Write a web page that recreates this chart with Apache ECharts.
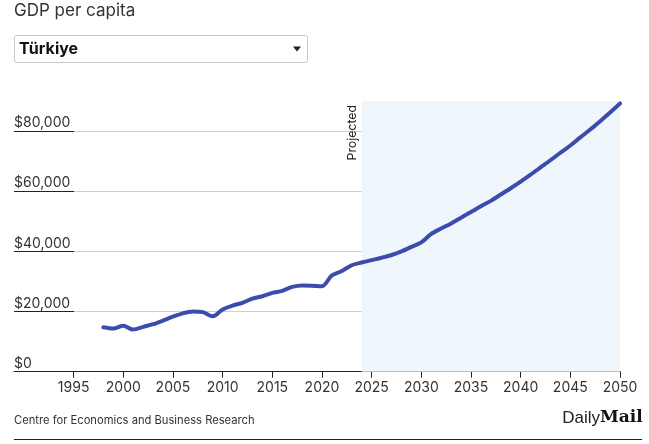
<!DOCTYPE html>
<html>
<head>
<meta charset="utf-8">
<script src="https://cdn.jsdelivr.net/npm/echarts@6/dist/echarts.min.js"></script>
<style>
html,body{margin:0;padding:0;background:#fff;}
#c{width:649px;height:444px;}
</style>
</head>
<body>
<div id="c"></div>
<script>
var years = [];
for (var y = 1989; y <= 2050; y++) years.push(String(y));

var gdpYears = [1998,1999,2000,2001,2002,2003,2004,2005,2006,2007,2008,2009,2010,2011,2012,2013,2014,2015,2016,2017,2018,2019,2020,2021,2022,2023,2024,2025,2026,2027,2028,2029,2030,2031,2032,2033,2034,2035,2036,2037,2038,2039,2040,2041,2042,2043,2044,2045,2046,2047,2048,2049,2050];
var gdpValues = [14800,14400,15300,14000,14900,15800,17000,18300,19400,20000,19800,18400,20700,22000,22900,24300,25100,26200,26900,28200,28700,28600,28400,32000,33500,35400,36300,37100,37900,38800,40000,41500,43000,45800,47600,49300,51200,53100,55000,56800,58900,61000,63200,65500,67900,70300,72800,75200,77900,80500,83300,86200,89200];
var projectionStart = '2024';
var projectionEnd = '2050';
var yTicks = [0, 20000, 40000, 60000, 80000];
var xTickYears = [1995, 2000, 2005, 2010, 2015, 2020, 2025, 2030, 2035, 2040, 2045, 2050];

var seriesData = years.map(function (yr) {
  var i = gdpYears.indexOf(Number(yr));
  return i >= 0 ? gdpValues[i] : null;
});

var FONT = 'Inter, "Noto Sans", sans-serif';
function isTick(i, v) { return xTickYears.indexOf(Number(v)) >= 0; }

var chart = echarts.init(document.getElementById('c'), null, {renderer: 'canvas'});
chart.setOption({
  animation: false,
  textStyle: {fontFamily: FONT},
  title: {
    text: 'GDP per capita',
    left: 14, top: 2, padding: 0,
    textStyle: {fontSize: 17, fontWeight: 'normal', color: '#333', fontFamily: FONT}
  },
  graphic: [
    {type: 'rect', shape: {x: 14.5, y: 35.5, width: 293, height: 27, r: 2},
     style: {fill: '#fff', stroke: '#c8c8c8', lineWidth: 1}},
    {type: 'text', style: {x: 19, y: 49, text: 'Türkiye', fill: '#111', font: 'bold 16px ' + FONT, verticalAlign: 'middle'}},
    {type: 'polygon', shape: {points: [[293, 46.5], [301, 46.5], [297, 51.5]]}, style: {fill: '#222'}},
    {type: 'text', style: {x: 14, y: 421, text: 'Centre for Economics and Business Research', fill: '#333', font: '11.2px ' + FONT, verticalAlign: 'middle'}},
    {type: 'text', style: {x: 600, y: 418.5, text: 'Daily', fill: '#222', font: '300 17px "Liberation Sans", sans-serif', verticalAlign: 'middle', align: 'right'}},
    {type: 'text', style: {x: 600, y: 418, text: 'Mail', fill: '#111', font: 'bold 17px "DejaVu Serif", serif', verticalAlign: 'middle', align: 'left'}},
    {type: 'line', shape: {x1: 14, y1: 439.5, x2: 642, y2: 439.5}, style: {stroke: '#222', lineWidth: 1}}
  ],
  grid: {left: 14, right: 29, top: 101, bottom: 72.3, containLabel: false},
  xAxis: {
    type: 'category',
    data: years,
    boundaryGap: false,
    axisLine: {show: true, lineStyle: {color: '#222', width: 1}},
    axisTick: {show: true, length: 6, lineStyle: {color: '#222'}, interval: isTick},
    axisLabel: {show: true, margin: 9, fontSize: 14, color: '#333', fontFamily: FONT, interval: isTick},
    splitLine: {show: false}
  },
  yAxis: {
    type: 'value',
    min: 0, max: 90000, interval: 20000,
    axisLine: {show: false},
    axisTick: {show: true, inside: true, length: 60, lineStyle: {color: '#222'}},
    axisLabel: {
      inside: true, margin: 0, fontSize: 14, color: '#333', fontFamily: FONT,
      verticalAlign: 'bottom', padding: [0, 0, 1, 0], showMaxLabel: false,
      formatter: function (v) {
        if (yTicks.indexOf(v) < 0) return '';
        return '$' + v.toLocaleString('en-US');
      }
    },
    splitLine: {show: true, showMaxLine: false, lineStyle: {color: '#cfcfcf', width: 1}}
  },
  series: [{
    type: 'line',
    data: seriesData,
    smooth: 0.3,
    showSymbol: false,
    symbol: 'none',
    connectNulls: false,
    lineStyle: {color: '#3c4cad', width: 4, cap: 'round', join: 'round'},
    z: 5,
    markArea: {
      silent: true,
      itemStyle: {color: '#eff7fc'},
      data: [[{xAxis: projectionStart}, {xAxis: projectionEnd}]]
    },
    markLine: {
      silent: true,
      symbol: ['none', 'none'],
      lineStyle: {color: 'rgba(0,0,0,0)', width: 0, type: 'solid'},
      label: {show: true, formatter: 'Projected', position: 'insideEndTop', color: '#222', fontSize: 12.3, fontFamily: FONT, distance: [4, 3]},
      emphasis: {disabled: true},
      data: [{xAxis: projectionStart}]
    }
  }]
});
</script>
</body>
</html>
